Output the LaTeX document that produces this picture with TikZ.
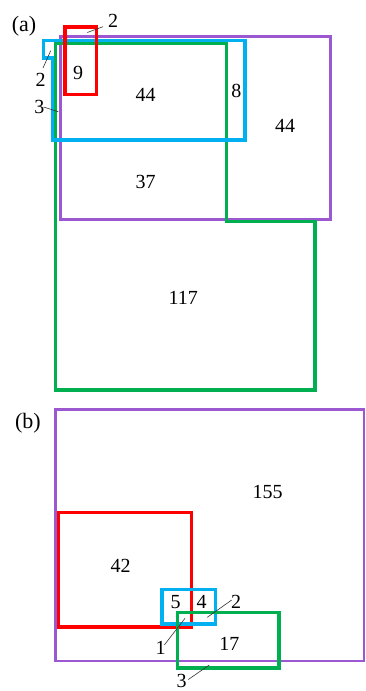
\documentclass[tikz,border=0pt]{standalone}
\usepackage{fontspec}
\setmainfont{Liberation Serif}
\definecolor{cpurple}{RGB}{155,88,208}
\definecolor{cblue}{RGB}{0,176,240}
\definecolor{cgreen}{RGB}{0,176,80}
\definecolor{cred}{RGB}{255,0,0}
\tikzset{
  setbox/.style={line width=3.1pt, line join=miter},
  purplebox/.style={setbox, draw=cpurple, line width=2.8pt},
  bluebox/.style={setbox, draw=cblue},
  greenbox/.style={setbox, draw=cgreen},
  redbox/.style={setbox, draw=cred},
  num/.style={inner sep=0pt, font=\fontsize{20}{24}\selectfont},
  panel/.style={inner sep=0pt, font=\fontsize{22}{26}\selectfont},
  leader/.style={draw=black!80, line width=0.6pt}
}
\begin{document}
\begin{tikzpicture}[x=1pt,y=-1pt]
\useasboundingbox (0,0) rectangle (365,691);
% ---------------- panel (a) ----------------
\node[panel] (pa) at (24,26) {(a)};
\draw[purplebox] (60.7,36.7) rectangle (330.3,219.7);
\draw[greenbox] (55.7,43.3) -- (226.3,43.3) -- (226.3,221.3) -- (315,221.3) -- (315,390) -- (55.7,390) -- cycle;
\draw[bluebox] (43.3,40.7) -- (245,40.7) -- (245,140) -- (52.3,140) -- (52.3,58) -- (43.3,58) -- cycle;
\draw[redbox] (65,27) rectangle (96.7,94.7);
\node[num] (a9) at (78,73) {9};
\node[num] (a44) at (145.7,95) {44};
\node[num] (a8) at (236.3,91) {8};
\node[num] (a44r) at (285,126) {44};
\node[num] (a37) at (145.7,182.3) {37};
\node[num] (a117) at (183.3,297.7) {117};
\node[num] (a2t) at (113,21) {2};
\node[num] (a2l) at (40.7,80) {2};
\node[num] (a3) at (39.3,107) {3};
\coordinate (a2tA) at (103,26.7);
\coordinate (a2tB) at (87.3,32.5);
\coordinate (a2lA) at (43,68);
\coordinate (a2lB) at (50.7,50.7);
\coordinate (a3A) at (43.5,107);
\coordinate (a3B) at (58.3,111.7);
\draw[leader] (a2tA) -- (a2tB);
\draw[leader] (a2lA) -- (a2lB);
\draw[leader] (a3A) -- (a3B);
% ---------------- panel (b) ----------------
\node[panel] (pb) at (28,423) {(b)};
\draw[purplebox] (55.7,409.3) rectangle (364,661);
\draw[redbox] (58.3,512.7) rectangle (191.3,627);
\draw[bluebox] (162,589.3) rectangle (215.3,624);
\draw[greenbox] (177.3,612.3) rectangle (279,668);
\node[num] (b155) at (267.7,492.3) {155};
\node[num] (b42) at (120.7,566) {42};
\node[num] (b5) at (175.7,602.3) {5};
\node[num] (b4) at (201.7,602.3) {4};
\node[num] (b17) at (229.3,644) {17};
\node[num] (b2) at (236,601.7) {2};
\node[num] (b1) at (160.7,648.3) {1};
\node[num] (b3) at (181.7,681) {3};
\coordinate (b2A) at (231.7,600);
\coordinate (b2B) at (207.3,617.3);
\coordinate (b1A) at (164.3,645);
\coordinate (b1B) at (185,618.3);
\coordinate (b3A) at (188.3,679.5);
\coordinate (b3B) at (209.3,665);
\draw[leader] (b2A) -- (b2B);
\draw[leader] (b1A) -- (b1B);
\draw[leader] (b3A) -- (b3B);
\end{tikzpicture}
\end{document}
